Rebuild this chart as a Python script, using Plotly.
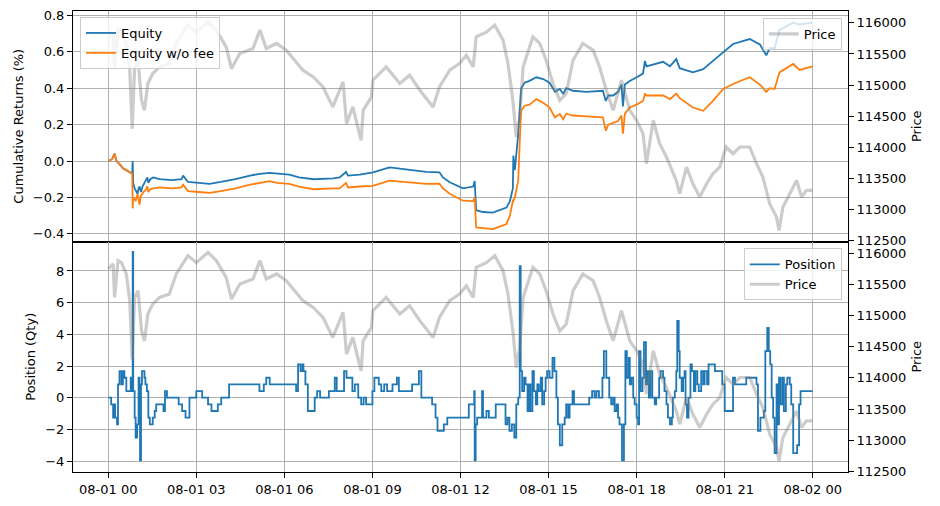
import pandas as pd
import plotly.graph_objects as go
from plotly.subplots import make_subplots

base = pd.Timestamp("2025-08-01 00:00")

# ---- equity curves (minutes since 08-01 00:00, cumulative returns %) ----
eq_min = [0, 8, 13, 17, 24, 30, 37, 44, 49, 50,
          51, 54, 56, 58, 60, 62, 64, 66, 67, 70,
          72, 76, 80, 82, 86, 92, 105, 130, 150, 153,
          158, 163, 185, 207, 230, 260, 290, 310, 330, 345,
          370, 390, 420, 460, 473, 486, 490, 514, 541, 575,
          609, 637, 650, 677, 684, 698, 725, 746, 749, 752,
          766, 786, 800, 814, 821, 827, 828, 831, 838, 841,
          844, 851, 861, 875, 889, 902, 913, 923, 930, 936,
          950, 977, 1005, 1011, 1017, 1022, 1032, 1042, 1049, 1052,
          1056, 1066, 1080, 1093, 1097, 1100, 1134, 1148, 1161, 1168,
          1195, 1216, 1236, 1257, 1277, 1311, 1332, 1345, 1352, 1362,
          1372, 1400, 1413, 1440]

equity = [0.00, 0.01, 0.04, 0.00, -0.02, -0.04, -0.05, -0.06, -0.07, 0.00,
          -0.12, -0.15, -0.16, -0.17, -0.18, -0.15, -0.14, -0.16, -0.17, -0.14,
          -0.13, -0.11, -0.09, -0.12, -0.10, -0.09, -0.10, -0.105, -0.10, -0.08,
          -0.10, -0.115, -0.12, -0.125, -0.115, -0.10, -0.08, -0.07, -0.065, -0.07,
          -0.075, -0.09, -0.10, -0.095, -0.09, -0.06, -0.08, -0.075, -0.062, -0.035,
          -0.045, -0.053, -0.06, -0.062, -0.09, -0.117, -0.15, -0.14, -0.11, -0.27,
          -0.28, -0.283, -0.27, -0.256, -0.22, -0.15, 0.03, -0.05, 0.15, 0.30,
          0.40, 0.43, 0.44, 0.46, 0.45, 0.43, 0.38, 0.396, 0.37, 0.40,
          0.386, 0.38, 0.386, 0.386, 0.33, 0.36, 0.36, 0.38, 0.42, 0.30,
          0.42, 0.44, 0.46, 0.48, 0.55, 0.52, 0.545, 0.52, 0.56, 0.51,
          0.487, 0.505, 0.55, 0.60, 0.643, 0.67, 0.64, 0.58, 0.62, 0.62,
          0.72, 0.76, 0.75, 0.76]

equity_no_fee = [0.00, 0.01, 0.04, 0.00, -0.02, -0.04, -0.05, -0.06, -0.07, -0.26,
                 -0.20, -0.21, -0.22, -0.20, -0.18, -0.21, -0.24, -0.20, -0.19, -0.18,
                 -0.17, -0.16, -0.14, -0.17, -0.155, -0.15, -0.145, -0.15, -0.145, -0.13,
                 -0.15, -0.165, -0.17, -0.175, -0.165, -0.15, -0.13, -0.12, -0.11, -0.12,
                 -0.125, -0.14, -0.155, -0.15, -0.15, -0.12, -0.145, -0.14, -0.136, -0.108,
                 -0.115, -0.12, -0.125, -0.124, -0.15, -0.18, -0.218, -0.22, -0.20, -0.365,
                 -0.37, -0.374, -0.36, -0.346, -0.30, -0.218, -0.22, -0.20, -0.108, 0.10,
                 0.276, 0.304, 0.31, 0.34, 0.32, 0.294, 0.24, 0.258, 0.23, 0.26,
                 0.25, 0.245, 0.24, 0.24, 0.167, 0.20, 0.21, 0.22, 0.25, 0.15,
                 0.26, 0.294, 0.31, 0.33, 0.368, 0.36, 0.36, 0.34, 0.37, 0.345,
                 0.294, 0.276, 0.33, 0.396, 0.423, 0.46, 0.42, 0.38, 0.40, 0.396,
                 0.487, 0.533, 0.50, 0.52]

# ---- price ----
price_min = [0, 10, 13, 20, 27, 37, 44, 49, 54, 61,
             68, 74, 81, 91, 105, 125, 139, 153, 163, 180,
             204, 221, 241, 252, 269, 296, 310, 323, 344, 364,
             378, 398, 419, 439, 459, 480, 487, 500, 510, 517,
             521, 538, 541, 568, 596, 616, 637, 664, 677, 698,
             718, 732, 746, 752, 773, 790, 807, 817, 827, 834,
             841, 848, 868, 882, 895, 909, 923, 936, 950, 970,
             991, 1004, 1018, 1032, 1049, 1066, 1080, 1093, 1100, 1114,
             1127, 1141, 1161, 1168, 1182, 1195, 1209, 1223, 1236, 1250,
             1263, 1277, 1291, 1311, 1325, 1338, 1352, 1366, 1371, 1379,
             1393, 1407, 1417, 1427, 1440]

price = [115749, 115830, 115293, 115883, 115850, 115669, 115240, 114302, 115293, 115400,
         114757, 114596, 115026, 115187, 115293, 115347, 115669, 115830, 115963, 115850,
         116016, 115883, 115615, 115267, 115508, 115588, 115883, 115588, 115669, 115562,
         115428, 115240, 115132, 114971, 114650, 115051, 114383, 114650, 114328, 114115,
         114596, 114811, 115079, 115293, 115026, 115160, 114918, 114650, 114971, 115240,
         115347, 115481, 115293, 115775, 115850, 115963, 115722, 115347, 114757, 114167,
         114490, 115293, 115775, 115669, 115400, 115026, 114757, 114864, 115400, 115669,
         115562, 115300, 114918, 114596, 115079, 114596, 114436, 114222, 113740, 114436,
         114061, 113846, 113471, 113257, 113685, 113417, 113203, 113417, 113578, 113685,
         114007, 113900, 114007, 114007, 113740, 113524, 113096, 112881, 112667, 113042,
         113257, 113471, 113203, 113310, 113310]

# ---- position ----
pos_min = [0, 6, 10, 12, 14, 18, 20, 23, 27, 30,
           33, 37, 46, 48, 50, 51, 54, 56, 59, 62,
           64, 65, 67, 69, 74, 76, 79, 82, 85, 91,
           95, 98, 113, 116, 120, 144, 151, 158, 166, 180,
           192, 204, 211, 224, 231, 247, 309, 318, 323, 330,
           384, 388, 393, 397, 399, 403, 408, 422, 427, 433,
           451, 463, 467, 482, 487, 499, 504, 511, 517, 522,
           527, 540, 544, 553, 558, 564, 570, 581, 590, 594,
           621, 635, 640, 662, 669, 673, 686, 693, 737, 748,
           749, 751, 754, 764, 766, 773, 778, 792, 812, 816,
           820, 825, 830, 834, 838, 841, 843, 846, 850, 853,
           857, 860, 863, 867, 870, 874, 877, 880, 884, 887,
           891, 894, 897, 902, 908, 912, 916, 919, 923, 928,
           933, 936, 940, 943, 949, 952, 983, 989, 994, 998,
           1003, 1010, 1013, 1018, 1024, 1028, 1032, 1035, 1039, 1042,
           1045, 1050, 1054, 1057, 1060, 1064, 1066, 1069, 1073, 1076,
           1080, 1083, 1085, 1088, 1092, 1095, 1099, 1102, 1105, 1108,
           1112, 1117, 1120, 1126, 1129, 1134, 1137, 1141, 1144, 1148,
           1152, 1154, 1158, 1161, 1163, 1166, 1168, 1172, 1175, 1178,
           1180, 1183, 1186, 1190, 1193, 1197, 1200, 1204, 1207, 1212,
           1216, 1219, 1224, 1227, 1240, 1255, 1260, 1277, 1281, 1304,
           1325, 1328, 1333, 1340, 1343, 1347, 1350, 1353, 1356, 1359,
           1362, 1366, 1369, 1371, 1374, 1378, 1381, 1385, 1388, 1393,
           1396, 1400, 1408, 1412, 1415, 1440]

position = [0, -0.42, -1.26, -0.42, -1.26, -1.68, 0.84, 1.68, 0.84, 1.68,
            1.26, 0.42, 1.26, 0.42, 9.2, 0.42, -1.26, -2.52, -1.68, 1.26,
            0.42, -3.95, 0.84, 1.68, 1.26, 0.84, 0.42, -1.26, -1.68, -1.26,
            -0.84, -0.42, -0.84, 0.42, 0, -0.42, -0.84, -1.26, 0, 0.42,
            0, -0.42, -0.84, -0.42, 0, 0.84, 0.42, 0.84, 1.26, 0.84,
            0.42, 2.1, 1.68, 2.1, 1.68, 0.84, -0.84, 0, 0.42, 0,
            0.42, 1.26, 0.42, 1.68, 1.26, 0.42, 0.84, 0, -0.42, 0,
            -0.42, 0.42, 1.26, 0.84, 0.42, 0.84, 0.42, 0.84, 1.26, 0.42,
            0.84, 1.68, 0, -0.42, -1.26, -2.1, -1.68, -1.26, -0.42, 0.42,
            -3.95, -1.68, -1.26, 0.42, -1.26, -0.84, -1.26, -0.42, -1.68, -1.26,
            -2.1, -1.68, -2.52, -0.42, 0, 8.3, 1.68, 0.42, 1.26, 0.84,
            -0.84, 0.84, -0.84, 1.68, 0.42, -0.42, 0.84, 0.42, 1.26, -0.42,
            0.42, 1.26, 1.68, 1.26, 2.52, 1.68, 0, -1.68, -3.0, -1.68,
            -1.26, -0.42, -1.26, -0.42, 0.42, -0.42, 0, 0.42, 0, 0.42,
            0, 1.26, 2.94, 1.26, 0, -0.42, 0, -0.84, -0.42, -1.26,
            -1.68, -3.95, -1.68, 2.94, 1.26, 2.52, 0.84, 1.26, 0, -0.42,
            -1.26, -1.68, 2.94, 0.42, 1.26, 3.5, 0.84, 1.68, 0, 1.68,
            0, -0.42, 0, 1.26, 1.68, 1.26, 0.42, -0.42, -1.26, -1.68,
            -1.26, 0, 0.42, 1.68, 4.85, 2.94, 1.26, 0.42, 1.26, 1.68,
            -0.42, -1.26, 0, 2.1, 1.68, 0.42, 1.68, 0.84, 0.42, 1.68,
            0.84, 1.68, 0.84, 2.1, 1.68, 0.84, -0.84, 1.26, 0.84, 1.26,
            0.84, -2.1, -1.26, -0.84, 2.94, 4.4, 2.94, 2.1, 0, -1.26,
            -3.5, 0.84, -1.68, 1.26, -0.42, 1.26, -0.84, 0.84, 1.26, 0.84,
            -0.42, -3.5, -3.0, -0.42, 0.42, 0.42]

price_ticks = [112500, 113000, 113500, 114000, 114500, 115000, 115500, 116000]


def to_time(mins):
    return base + pd.to_timedelta(pd.Series(mins, dtype=float), unit="min")


t_eq = to_time(eq_min)
t_price = to_time(price_min)
t_pos = to_time(pos_min)

BLUE = "#1f77b4"
ORANGE = "#ff7f0e"
GRAY = "rgba(128,128,128,0.4)"
FONT = "DejaVu Sans"

fig = make_subplots(rows=2, cols=1, shared_xaxes=True, vertical_spacing=0,
                    specs=[[{"secondary_y": True}], [{"secondary_y": True}]])

fig.add_trace(go.Scatter(x=t_eq, y=equity, name="Equity", mode="lines",
                         line=dict(color=BLUE, width=1.8), legend="legend"),
              row=1, col=1, secondary_y=False)
fig.add_trace(go.Scatter(x=t_eq, y=equity_no_fee, name="Equity w/o fee", mode="lines",
                         line=dict(color=ORANGE, width=1.8), legend="legend"),
              row=1, col=1, secondary_y=False)
fig.add_trace(go.Scatter(x=t_price, y=price, name="Price", mode="lines",
                         line=dict(color=GRAY, width=3.2), legend="legend2"),
              row=1, col=1, secondary_y=True)

fig.add_trace(go.Scatter(x=t_pos, y=position, name="Position", mode="lines",
                         line=dict(color=BLUE, width=1.8, shape="hv"), legend="legend3"),
              row=2, col=1, secondary_y=False)
fig.add_trace(go.Scatter(x=t_price, y=price, name="Price", mode="lines",
                         line=dict(color=GRAY, width=3.2), legend="legend3"),
              row=2, col=1, secondary_y=True)

x_range = [base - pd.Timedelta(minutes=72), base + pd.Timedelta(minutes=1440 + 72)]

axis_common = dict(showline=True, linecolor="black", linewidth=1, mirror=True,
                   ticks="outside", ticklen=5, tickcolor="black", tickwidth=1,
                   tickfont=dict(family=FONT, size=13, color="black"),
                   gridcolor="#b0b0b0", gridwidth=0.8, zeroline=False,
                   automargin=False)

fig.update_xaxes(**axis_common, range=x_range, dtick=3 * 3600 * 1000,
                 tick0=base, tickformat="%m-%d %H", showgrid=True, domain=[0, 1])
fig.update_xaxes(ticks="", row=1, col=1)

fig.update_yaxes(**axis_common, showgrid=True, secondary_y=False)
fig.update_yaxes(range=[-0.442, 0.824], tickvals=[-0.4, -0.2, 0.0, 0.2, 0.4, 0.6, 0.8],
                 tickformat=".1f",
                 title=dict(text="Cumulative Returns (%)", font=dict(family=FONT, size=13, color="black"),
                            standoff=6),
                 row=1, col=1, secondary_y=False)
fig.update_yaxes(range=[-4.69, 9.86], tickvals=[-4, -2, 0, 2, 4, 6, 8],
                 title=dict(text="Position (Qty)", font=dict(family=FONT, size=13, color="black"),
                            standoff=6),
                 row=2, col=1, secondary_y=False)

sec_common = dict(showline=True, linecolor="black", linewidth=1,
                  ticks="outside", ticklen=5, tickcolor="black", tickwidth=1,
                  tickfont=dict(family=FONT, size=13, color="black"),
                  showgrid=False, zeroline=False, range=[112490, 116190],
                  tickvals=price_ticks, tickformat="d", automargin=False,
                  title=dict(text="Price", font=dict(family=FONT, size=13, color="black"),
                             standoff=6))
fig.update_yaxes(**sec_common, row=1, col=1, secondary_y=True)
fig.update_yaxes(**sec_common, row=2, col=1, secondary_y=True)

legend_style = dict(bgcolor="rgba(255,255,255,0.8)", bordercolor="#cccccc", borderwidth=1,
                    font=dict(family=FONT, size=13, color="black"), itemwidth=30,
                    tracegroupgap=0)

fig.update_layout(
    width=940, height=506,
    margin=dict(l=73, r=92, t=11, b=34, autoexpand=False),
    paper_bgcolor="white", plot_bgcolor="white",
    font=dict(family=FONT, size=13, color="black"),
    legend=dict(**legend_style, x=0.009, y=0.987, xanchor="left", yanchor="top"),
    legend2=dict(**legend_style, x=0.992, y=0.985, xanchor="right", yanchor="top"),
    legend3=dict(**legend_style, x=0.992, y=0.485, xanchor="right", yanchor="top"),
    showlegend=True,
)

fig.write_html("out.html")
